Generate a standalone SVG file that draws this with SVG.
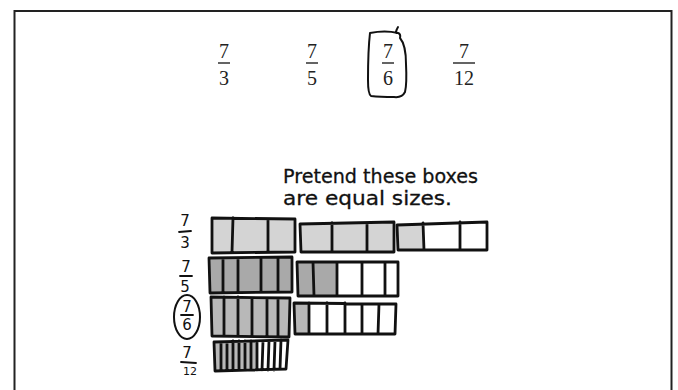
<svg xmlns="http://www.w3.org/2000/svg" width="678" height="390" viewBox="0 0 678 390">
<style>
.frame{fill:none;stroke:#222;stroke-width:2}
.tf{font-family:"Liberation Serif","DejaVu Serif",serif;font-size:20px;fill:#222;text-anchor:middle}
.bar{stroke:#222;stroke-width:1.4}
.ink{fill:none;stroke:#111;stroke-width:2.8;stroke-linejoin:round;stroke-linecap:round}
.hw{font-family:"DejaVu Sans","Liberation Sans",sans-serif;font-size:20px;fill:#111;stroke:#111;stroke-width:0.3}
.hl{font-family:"DejaVu Sans","Liberation Sans",sans-serif;font-size:15px;fill:#111;text-anchor:middle}
.s1{fill:#d4d4d4}
.s2{fill:#a9a9a9}
.s3{fill:#b8b8b8}
</style>
<rect x="0" y="0" width="678" height="390" fill="#fff"/>
<rect class="frame" x="14.5" y="11" width="657" height="400"/>

<g id="top-fractions">
  <g id="f73"><text class="tf" x="224" y="58">7</text><line class="bar" x1="218" y1="63" x2="230" y2="63"/><text class="tf" x="224" y="85">3</text></g>
  <g id="f75"><text class="tf" x="312" y="58">7</text><line class="bar" x1="306" y1="63" x2="318" y2="63"/><text class="tf" x="312" y="85">5</text></g>
  <g id="f76"><text class="tf" x="388" y="58">7</text><line class="bar" x1="382" y1="63" x2="394" y2="63"/><text class="tf" x="388" y="85">6</text>
    <path class="ink" style="stroke-width:2" d="M370,33 Q385,30 398,33 Q401,34 400,38 Q406,45 406,64 Q407,84 405,92 Q402,98 394,97 Q380,97 371,96 Q368,94 368,80 Q368,50 370,33 Z M396,33 Q396,30 398,27"/>
  </g>
  <g id="f712"><text class="tf" x="464" y="58">7</text><line class="bar" x1="453" y1="63" x2="475" y2="63"/><text class="tf" x="464" y="85">12</text></g>
</g>

<g id="note">
  <text class="hw" x="283" y="183" textLength="195" lengthAdjust="spacingAndGlyphs">Pretend these boxes</text>
  <text class="hw" x="283" y="205" textLength="169" lengthAdjust="spacingAndGlyphs">are equal sizes.</text>
</g>

<g id="labels">
  <g id="l73"><text class="hl" x="185" y="226">7</text><line class="ink" style="stroke-width:1.8" x1="179" y1="232" x2="191" y2="231"/><text class="hl" x="185" y="248">3</text></g>
  <g id="l75"><text class="hl" x="186" y="272">7</text><line class="ink" style="stroke-width:1.8" x1="180" y1="276" x2="192" y2="276"/><text class="hl" x="185" y="292">5</text></g>
  <g id="l76"><text class="hl" x="187" y="312">7</text><line class="ink" style="stroke-width:1.8" x1="181" y1="315" x2="193" y2="315"/><text class="hl" x="187" y="330">6</text>
    <ellipse cx="187" cy="317" rx="13" ry="22" fill="none" stroke="#111" stroke-width="2"/></g>
  <g id="l712"><text class="hl" x="187" y="358">7</text><line class="ink" style="stroke-width:1.8" x1="181" y1="362" x2="196" y2="363"/><text class="hl" style="font-size:11px" x="190" y="375">12</text></g>
</g>

<g id="row-7-3">
  <polygon class="s1" points="212,218 295,219 295,252 212,253"/>
  <path class="ink" d="M212,218 L295,219 L295,252 L212,253 Z M233,218 L232,252 M268,219 L268,252"/>
  <polygon class="s1" points="300,224 394,222 394,252 301,252"/>
  <path class="ink" d="M300,224 L394,222 L394,252 L301,252 Z M332,223 L332,252 M367,223 L367,252"/>
  <polygon class="s1" points="397,225 423,223 423,250 398,250"/>
  <path class="ink" d="M397,225 L487,222 L487,250 L398,250 Z M423,223 L424,250 M460,222 L460,250"/>
</g>

<g id="row-7-5">
  <polygon class="s2" points="209,258 292,257 292,292 210,293"/>
  <path class="ink" d="M209,258 L292,257 L292,292 L210,293 Z M223,258 L223,292 M238,258 L238,292 M261,258 L261,292 M278,258 L278,292"/>
  <polygon class="s2" points="297,262 337,262 337,296 298,296"/>
  <path class="ink" d="M297,262 L398,262 L398,296 L298,296 Z M313,262 L314,296 M337,262 L337,296 M362,262 L362,296 M385,262 L385,296"/>
</g>

<g id="row-7-6">
  <polygon class="s3" points="211,297 290,298 289,337 212,336"/>
  <path class="ink" d="M211,297 L290,298 L289,337 L212,336 Z M224,297 L224,336 M238,297 L238,336 M252,298 L252,336 M267,298 L267,336 M278,298 L278,336"/>
  <polygon class="s3" points="294,303 309,303 309,334 295,334"/>
  <path class="ink" d="M294,303 L396,304 L395,334 L295,334 Z M309,303 L309,334 M327,303 L327,334 M345,303 L345,334 M362,304 L362,334 M379,304 L378,334"/>
</g>

<g id="row-7-12">
  <polygon class="s3" points="214,342 257,341 257,370 215,371"/>
  <path class="ink" d="M214,342 L288,340 L286,369 L215,371 Z M221,342 L221,370 M227,342 L227,370 M233,341 L233,370 M239,341 L239,370 M245,341 L245,370 M251,341 L251,370 M257,341 L257,370 M263,341 L262,370 M269,341 L268,370 M275,341 L274,370 M281,340 L280,369"/>
</g>
</svg>
